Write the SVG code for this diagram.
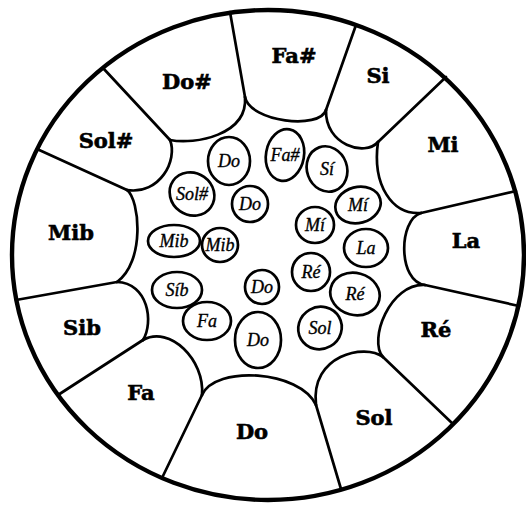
<svg xmlns="http://www.w3.org/2000/svg" width="526" height="505" viewBox="0 0 526 505">
<style>
.ln{fill:none;stroke:#000;stroke-width:2.7;stroke-linecap:round;stroke-linejoin:round}
.rim{fill:none;stroke:#000;stroke-width:4.4}
.tl{font-family:"DejaVu Serif",serif;font-weight:bold;font-size:21px;text-anchor:middle;fill:#000;stroke:#000;stroke-width:0.6}
.pad{fill:#fff;stroke:#000;stroke-width:2.7}
.pl{font-family:"Liberation Serif",serif;font-style:italic;font-size:18px;text-anchor:middle;fill:#000;stroke:#000;stroke-width:0.35}
</style>
<rect width="526" height="505" fill="#fff"/>
<ellipse class="rim" cx="268" cy="255" rx="256" ry="245"/>
<g id="dividers" class="ln">
<line x1="245" y1="97" x2="230" y2="12"/>
<line x1="326" y1="110" x2="356" y2="25"/>
<line x1="378" y1="142" x2="446" y2="77"/>
<line x1="421" y1="213" x2="516" y2="191"/>
<line x1="425" y1="285" x2="519" y2="306"/>
<line x1="383" y1="357" x2="453" y2="424"/>
<line x1="316" y1="405" x2="341" y2="489"/>
<line x1="202" y1="395" x2="162" y2="478"/>
<line x1="143" y1="340" x2="58" y2="395"/>
<line x1="117" y1="282" x2="16" y2="300"/>
<line x1="127" y1="190" x2="37" y2="149"/>
<line x1="170" y1="140" x2="103" y2="68"/>
</g>
<g id="tongue-fas"><path class="ln" d="M245 97 C250 122 320 130 326 110"/><text class="tl" x="294" y="63">Fa#</text></g>
<g id="tongue-si"><path class="ln" d="M326 110 C325 145 365 157 378 142"/><text class="tl" x="378" y="83">Si</text></g>
<g id="tongue-mi"><path class="ln" d="M378 142 C372 185 392 215 421 213"/><text class="tl" x="443" y="152">Mi</text></g>
<g id="tongue-la"><path class="ln" d="M421 213 C398 220 398 282 425 285"/><text class="tl" x="466" y="248">La</text></g>
<g id="tongue-re"><path class="ln" d="M425 285 C390 283 368 340 383 357"/><text class="tl" x="436" y="337">Ré</text></g>
<g id="tongue-sol"><path class="ln" d="M383 357 C365 343 310 355 316 405"/><text class="tl" x="374" y="425">Sol</text></g>
<g id="tongue-do"><path class="ln" d="M316 405 C300 370 215 365 202 395"/><text class="tl" x="252" y="439">Do</text></g>
<g id="tongue-fa"><path class="ln" d="M202 395 C205 360 170 325 143 340"/><text class="tl" x="141" y="400">Fa</text></g>
<g id="tongue-sib"><path class="ln" d="M143 340 C154 322 148 283 117 282"/><text class="tl" x="82" y="335">Sib</text></g>
<g id="tongue-mib"><path class="ln" d="M117 282 C145 262 140 200 127 190"/><text class="tl" x="71" y="240">Mib</text></g>
<g id="tongue-sols"><path class="ln" d="M127 190 C160 195 178 160 170 140"/><text class="tl" x="106" y="148">Sol#</text></g>
<g id="tongue-dos"><path class="ln" d="M170 140 C195 145 248 135 245 97"/><text class="tl" x="187" y="89">Do#</text></g>
<g id="pad-do1"><ellipse class="pad" cx="229" cy="161" rx="21" ry="24"/><text class="pl" x="229" y="167">Do</text></g>
<g id="pad-fas"><ellipse class="pad" cx="285" cy="155" rx="19" ry="26" transform="rotate(10 285 155)"/><text class="pl" x="285" y="161">Fa#</text></g>
<g id="pad-si"><ellipse class="pad" cx="327" cy="169" rx="20" ry="23" transform="rotate(-20 327 169)"/><text class="pl" x="327" y="175">Sí</text></g>
<g id="pad-sols"><ellipse class="pad" cx="192" cy="194" rx="23" ry="21" transform="rotate(35 192 194)"/><text class="pl" x="192" y="200">Sol#</text></g>
<g id="pad-do2"><ellipse class="pad" cx="250" cy="204" rx="18" ry="18"/><text class="pl" x="250" y="210">Do</text></g>
<g id="pad-mi1"><ellipse class="pad" cx="358" cy="205" rx="23" ry="18" transform="rotate(-15 358 205)"/><text class="pl" x="358" y="211">Mí</text></g>
<g id="pad-mi2"><ellipse class="pad" cx="315" cy="225" rx="19" ry="18"/><text class="pl" x="315" y="231">Mí</text></g>
<g id="pad-mib1"><ellipse class="pad" cx="174" cy="241" rx="26" ry="16"/><text class="pl" x="174" y="247">Mib</text></g>
<g id="pad-mib2"><ellipse class="pad" cx="220" cy="245" rx="18" ry="17"/><text class="pl" x="220" y="251">Mib</text></g>
<g id="pad-la"><ellipse class="pad" cx="366" cy="248" rx="22" ry="19"/><text class="pl" x="366" y="254">La</text></g>
<g id="pad-sib"><ellipse class="pad" cx="177" cy="290" rx="25" ry="18"/><text class="pl" x="177" y="296">Síb</text></g>
<g id="pad-do3"><ellipse class="pad" cx="262" cy="287" rx="17" ry="17"/><text class="pl" x="262" y="293">Do</text></g>
<g id="pad-re1"><ellipse class="pad" cx="311" cy="272" rx="19" ry="19"/><text class="pl" x="311" y="278">Ré</text></g>
<g id="pad-re2"><ellipse class="pad" cx="355" cy="294" rx="25" ry="21" transform="rotate(15 355 294)"/><text class="pl" x="355" y="300">Ré</text></g>
<g id="pad-fa"><ellipse class="pad" cx="207" cy="321" rx="24" ry="19"/><text class="pl" x="207" y="327">Fa</text></g>
<g id="pad-do4"><ellipse class="pad" cx="258" cy="340" rx="23" ry="28"/><text class="pl" x="258" y="346">Do</text></g>
<g id="pad-sol"><ellipse class="pad" cx="320" cy="328" rx="22" ry="21" transform="rotate(-30 320 328)"/><text class="pl" x="320" y="334">Sol</text></g>
</svg>
